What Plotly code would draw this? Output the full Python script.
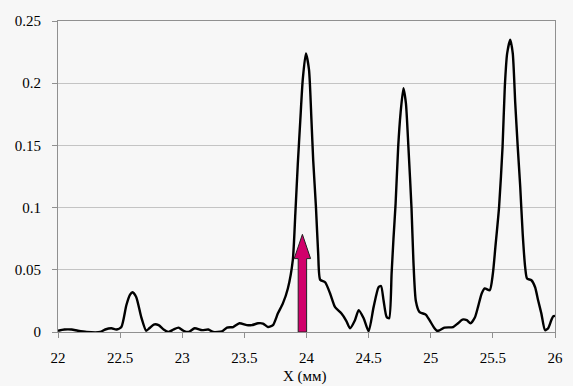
import plotly.graph_objects as go

# ---- data ----
x_mm = [22.00, 22.05, 22.11, 22.16, 22.23, 22.34, 22.38, 22.43, 22.47, 22.51,
        22.55, 22.58, 22.60, 22.63, 22.67, 22.71, 22.735, 22.77, 22.81, 22.85,
        22.89, 22.93, 22.97, 23.01, 23.05, 23.10, 23.16, 23.21, 23.25, 23.32,
        23.36, 23.41, 23.46, 23.52, 23.56, 23.61, 23.65, 23.69, 23.73, 23.77,
        23.81, 23.85, 23.89, 23.91, 23.93, 23.95, 23.97, 23.995, 24.02, 24.04,
        24.054, 24.076, 24.094, 24.11, 24.15, 24.19, 24.23, 24.28, 24.32, 24.35,
        24.39, 24.42, 24.46, 24.50, 24.54, 24.58, 24.60, 24.62, 24.645, 24.665,
        24.685, 24.70, 24.717, 24.738, 24.757, 24.78, 24.80, 24.82, 24.845, 24.86,
        24.88, 24.91, 24.96, 24.99, 25.03, 25.05, 25.07, 25.11, 25.18, 25.22,
        25.255, 25.29, 25.32, 25.355, 25.38, 25.41, 25.435, 25.475, 25.50, 25.52,
        25.55, 25.578, 25.596, 25.615, 25.64, 25.66, 25.68, 25.70, 25.72, 25.74,
        25.76, 25.775, 25.81, 25.84, 25.864, 25.89, 25.92, 25.945, 25.97, 25.985,
        26.00]
signal = [0.001, 0.002, 0.002, 0.001, 0.0, 0.0, 0.002, 0.003, 0.002, 0.004,
          0.0215, 0.030, 0.032, 0.028, 0.012, 0.001, 0.003, 0.006, 0.0055, 0.002,
          0.0, 0.002, 0.0035, 0.001, 0.0, 0.003, 0.0015, 0.002, 0.0, 0.0005,
          0.0035, 0.004, 0.007, 0.0055, 0.0055, 0.007, 0.0068, 0.004, 0.0055, 0.015,
          0.023, 0.035, 0.058, 0.095, 0.135, 0.170, 0.203, 0.224, 0.211, 0.170,
          0.138, 0.1006, 0.063, 0.042, 0.040, 0.031, 0.020, 0.015, 0.009, 0.003,
          0.0095, 0.0175, 0.011, 0.0005, 0.020, 0.036, 0.037, 0.0255, 0.012, 0.011,
          0.047, 0.075, 0.103, 0.149, 0.176, 0.196, 0.184, 0.149, 0.100, 0.058,
          0.025, 0.016, 0.014, 0.0095, 0.003, 0.001, 0.0014, 0.0035, 0.004, 0.007,
          0.010, 0.0095, 0.007, 0.0116, 0.020, 0.031, 0.035, 0.0336, 0.047, 0.068,
          0.1006, 0.149, 0.197, 0.224, 0.235, 0.224, 0.184, 0.149, 0.117, 0.079,
          0.052, 0.043, 0.0416, 0.036, 0.0255, 0.015, 0.0014, 0.003, 0.0094, 0.0126,
          0.013]

x_ticks = [22, 22.5, 23, 23.5, 24, 24.5, 25, 25.5, 26]
x_tick_labels = ["22", "22.5", "23", "23.5", "24", "24.5", "25", "25.5", "26"]
y_ticks = [0, 0.05, 0.1, 0.15, 0.2, 0.25]
y_tick_labels = ["0", "0.05", "0.1", "0.15", "0.2", "0.25"]
x_title = "X (мм)"

# arrow marker (position and extent in data units)
arrow_x = 23.967
arrow_base = 0.0
arrow_head_base = 0.059
arrow_tip = 0.0785
arrow_shaft_half = 0.034
arrow_head_half = 0.066

FONT = "Liberation Serif, Times New Roman, serif"

fig = go.Figure()
fig.add_trace(go.Scatter(
    x=x_mm, y=signal, mode="lines",
    line=dict(color="black", width=2.4, shape="spline", smoothing=0.6),
    showlegend=False, hoverinfo="skip"))

ax_poly = [arrow_x - arrow_shaft_half, arrow_x - arrow_shaft_half, arrow_x - arrow_head_half,
           arrow_x, arrow_x + arrow_head_half, arrow_x + arrow_shaft_half,
           arrow_x + arrow_shaft_half, arrow_x - arrow_shaft_half]
ay_poly = [arrow_base, arrow_head_base, arrow_head_base, arrow_tip, arrow_head_base,
           arrow_head_base, arrow_base, arrow_base]
fig.add_trace(go.Scatter(
    x=ax_poly, y=ay_poly, mode="lines", fill="toself",
    fillcolor="#d1006b", line=dict(color="#222222", width=1),
    showlegend=False, hoverinfo="skip"))

BG = "#f7f7f7"
fig.update_layout(
    width=573, height=386,
    margin=dict(l=58, r=18, t=21, b=54, autoexpand=False),
    paper_bgcolor=BG, plot_bgcolor=BG,
    font=dict(family=FONT, size=14, color="black"),
    xaxis=dict(
        range=[22, 26], tickvals=x_ticks, ticktext=x_tick_labels,
        showgrid=False, zeroline=False, automargin=False,
        showline=True, linecolor="#909090", linewidth=1, mirror=True,
        ticks="outside", ticklen=5, tickcolor="#909090",
        ticklabelstandoff=7,
        tickfont=dict(family=FONT, size=15),
    ),
    yaxis=dict(
        range=[0, 0.25], tickvals=y_ticks, ticktext=y_tick_labels,
        showgrid=True, gridcolor="#c4c4c4", gridwidth=1, zeroline=False,
        automargin=False,
        showline=True, linecolor="#909090", linewidth=1, mirror=True,
        ticks="outside", ticklen=5, tickcolor="#909090",
        ticklabelstandoff=8,
        tickfont=dict(family=FONT, size=15),
    ),
    annotations=[dict(
        text=x_title, xref="paper", yref="paper", x=0.497, y=-0.1745,
        xanchor="center", yanchor="bottom", showarrow=False, borderpad=0,
        font=dict(family=FONT, size=15, color="black"))],
)

fig.write_html("out.html",
               config={"displayModeBar": False},
               post_script="document.body.style.margin='0';document.body.style.overflow='hidden';")
